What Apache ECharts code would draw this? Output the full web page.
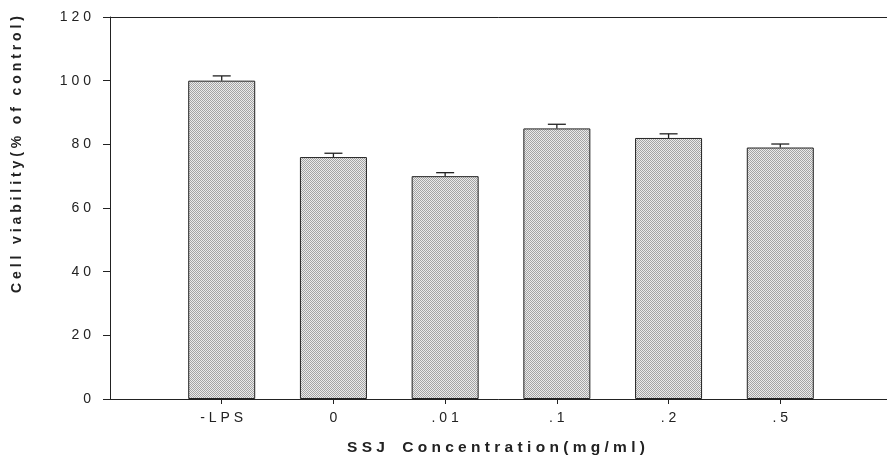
<!DOCTYPE html>
<html>
<head>
<meta charset="utf-8">
<script src="https://cdn.jsdelivr.net/npm/echarts@6/dist/echarts.min.js"></script>
<style>
 html,body{margin:0;padding:0;background:#fff;}
 #chart{width:887px;height:463px;}
</style>
</head>
<body>
<div id="chart"></div>
<script>
// groups on the x axis (empty slots at both ends keep the spacing of the original)
var categories = ['', '-LPS', '0', '.01', '.1', '.2', '.5', ' '];
var viability = [null, 100, 76, 70, 85, 82, 79, null];
var errors = [null, 1.5, 1.2, 1.1, 1.3, 1.3, 1.1, null];
var yTicks = [0, 20, 40, 60, 80, 100, 120];

// spread the letters out like the old plotting software did
function spaced(s) {
    return s.split('').join(' ');
}

// gray dithered fill for the bars
function makePattern() {
    var c = document.createElement('canvas');
    c.width = 2; c.height = 2;
    var ctx = c.getContext('2d');
    ctx.fillStyle = '#ebebeb';
    ctx.fillRect(0, 0, 2, 2);
    ctx.fillStyle = '#a4a4a4';
    ctx.fillRect(0, 0, 1, 1);
    ctx.fillRect(1, 1, 1, 1);
    return c;
}

var errData = [];
for (var i = 0; i < categories.length; i++) {
    if (viability[i] != null) errData.push([i, viability[i], errors[i]]);
}

var chart = echarts.init(document.getElementById('chart'));
chart.setOption({
    animation: false,
    backgroundColor: '#fff',
    textStyle: { fontFamily: 'Liberation Sans, Arial, sans-serif' },
    grid: { left: 110, top: 17, height: 382, width: 782, outerBoundsMode: 'none', containLabel: false },
    xAxis: [{
        type: 'category',
        data: categories,
        boundaryGap: false,
        axisLine: { lineStyle: { color: '#222', width: 1 } },
        axisTick: {
            length: 5,
            interval: function (idx) { return idx > 0 && idx < categories.length - 1; },
            lineStyle: { color: '#222' }
        },
        axisLabel: {
            interval: 0,
            margin: 12,
            fontSize: 14,
            color: '#222',
            formatter: function (v) { return spaced(v); }
        }
    }, {
        type: 'category',
        data: categories,
        position: 'top',
        boundaryGap: false,
        axisLine: { lineStyle: { color: '#222', width: 1 } },
        axisTick: { show: false },
        axisLabel: { show: false }
    }],
    yAxis: {
        type: 'value',
        min: yTicks[0],
        max: yTicks[yTicks.length - 1],
        interval: 20,
        splitLine: { show: false },
        axisLine: { show: true, lineStyle: { color: '#222', width: 1 } },
        axisTick: { show: true, length: 7, lineStyle: { color: '#222' } },
        axisLabel: {
            margin: 19,
            fontSize: 14,
            color: '#222',
            formatter: function (v) { return spaced(String(v)); }
        }
    },
    graphic: [{
        type: 'text',
        left: 347,
        top: 440,
        style: {
            text: 'S S J    C o n c e n t r a t i o n ( m g / m l )',
            font: 'bold 15.5px Liberation Sans, Arial, sans-serif',
            fill: '#222'
        }
    }, {
        type: 'text',
        x: 10,
        y: 293,
        rotation: Math.PI / 2,
        style: {
            text: 'C e l l   v i a b i l i t y ( %   o f   c o n t r o l )',
            font: 'bold 14px Liberation Sans, Arial, sans-serif',
            fill: '#222'
        }
    }],
    series: [{
        type: 'bar',
        data: viability,
        barWidth: 67,
        itemStyle: {
            color: { image: makePattern(), repeat: 'repeat' },
            borderColor: '#222',
            borderWidth: 1
        }
    }, {
        type: 'custom',
        data: errData,
        z: 1,
        renderItem: function (params, api) {
            var x = api.value(0);
            var top = api.coord([x, api.value(1) + api.value(2)]);
            var base = api.coord([x, api.value(1)]);
            var half = 9;
            var style = { stroke: '#222', lineWidth: 1.3 };
            return {
                type: 'group',
                children: [{
                    type: 'line',
                    shape: { x1: top[0], y1: top[1], x2: base[0], y2: base[1] },
                    style: style
                }, {
                    type: 'line',
                    shape: { x1: top[0] - half, y1: top[1], x2: top[0] + half, y2: top[1] },
                    style: style
                }]
            };
        }
    }]
});
</script>
</body>
</html>
